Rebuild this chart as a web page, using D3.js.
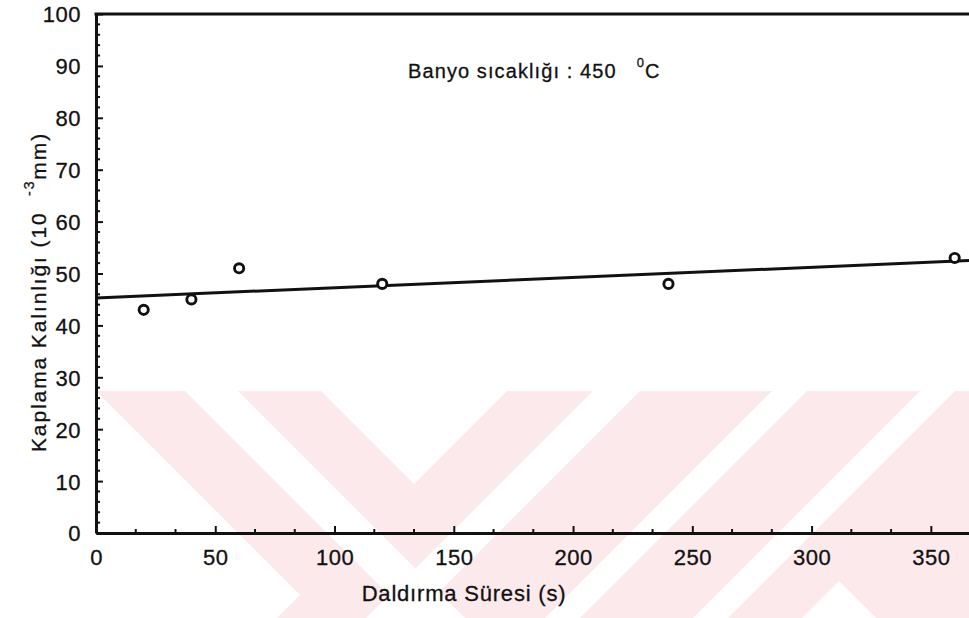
<!DOCTYPE html>
<html>
  <head>
    <meta charset="utf-8">
    <script src="https://cdn.jsdelivr.net/npm/d3@7"></script>
    <style>
      body { margin: 0; background: #fff; }
      svg text { font-family: "Liberation Sans", Arial, sans-serif; fill: #111; stroke: #111; stroke-width: 0.3px; white-space: pre; }
    </style>
  </head>
  <body>
    <svg id="chart"></svg>
    <script>

    // measured points (Daldırma süresi, s / kaplama kalınlığı, 10^-3 mm)
    var timeS = [20, 40, 60, 120, 240, 360]
    var thickness = [43, 45, 51, 48, 48, 53]

    // fitted line at its two ends
    var fitX = [0, 366]
    var fitY = [45.3, 52.5]

    var xTicks = [0, 50, 100, 150, 200, 250, 300, 350]
    var yTicks = [0, 10, 20, 30, 40, 50, 60, 70, 80, 90, 100]

    var width = 969
    var height = 618

    var svg = d3.select("#chart")
      .attr("width", width)
      .attr("height", height)

    var x = d3.scaleLinear().domain([0, 366]).range([96, 969])
    var y = d3.scaleLinear().domain([0, 100]).range([533, 14])

    // pale watermark from the scanned page
    var wm = svg.append("g").attr("class", "watermark")
    wm.append("rect")
      .attr("x", 96).attr("y", 391)
      .attr("width", width - 96).attr("height", height - 391)
      .attr("fill", "#fce9ec")
    var cuts = [
      [[96,391],[300,595],[277,618],[96,618]],
      [[185,391],[238,391],[465,618],[412,618]],
      [[321,391],[507,391],[414,484]],
      [[593,391],[640,391],[413,618],[366,618]],
      [[772,391],[807,391],[580,618],[545,618]],
      [[920,391],[955,391],[728,618],[693,618]],
      [[839,581],[876,618],[802,618]]
    ]
    wm.selectAll("polygon")
      .data(cuts)
      .enter().append("polygon")
      .attr("points", function(d) { return d.join(" ") })
      .attr("fill", "#fff")

    // minor ticks
    var xMinor = d3.range(50 / 3, 366, 50 / 3).filter(function(v) { return Math.abs(v % 50) > 1 && Math.abs(v % 50 - 50) > 1 })
    var yMinor = d3.range(2, 100, 2).filter(function(v) { return v % 10 != 0 })

    svg.append("g")
      .selectAll("line")
      .data(xMinor)
      .enter().append("line")
      .attr("x1", function(d) { return x(d) }).attr("x2", function(d) { return x(d) })
      .attr("y1", y(0)).attr("y2", y(0) - 4)
      .attr("stroke", "#111").attr("stroke-width", 2)

    svg.append("g")
      .selectAll("line")
      .data(yMinor)
      .enter().append("line")
      .attr("x1", x(0)).attr("x2", x(0) + 4)
      .attr("y1", function(d) { return y(d) }).attr("y2", function(d) { return y(d) })
      .attr("stroke", "#111").attr("stroke-width", 2)

    // axes, ticks point inwards
    var xAxis = svg.append("g")
      .attr("transform", "translate(0," + y(0) + ")")
      .call(d3.axisBottom(x).tickValues(xTicks).tickSize(-7).tickSizeOuter(0))
    xAxis.select(".domain").attr("stroke", "#111").attr("stroke-width", 3)
    xAxis.selectAll(".tick line").attr("stroke", "#111").attr("stroke-width", 2)
    xAxis.selectAll(".tick text")
      .attr("y", 32).attr("dy", null)
      .style("font-size", "22px")
      .style("letter-spacing", "0.5px")

    var yAxis = svg.append("g")
      .attr("transform", "translate(" + x(0) + ",0)")
      .call(d3.axisLeft(y).tickValues(yTicks).tickSize(-7).tickSizeOuter(0))
    yAxis.select(".domain").attr("stroke", "#111").attr("stroke-width", 3)
    yAxis.selectAll(".tick line").attr("stroke", "#111").attr("stroke-width", 2)
    yAxis.selectAll(".tick text")
      .attr("x", -15).attr("dy", "0.36em")
      .style("font-size", "22px")
      .style("letter-spacing", "0.5px")

    // top frame line
    svg.append("line")
      .attr("x1", x(0) - 1.5).attr("x2", width)
      .attr("y1", y(100)).attr("y2", y(100))
      .attr("stroke", "#111").attr("stroke-width", 3)

    // fit line
    var line = d3.line()
      .x(function(d) { return x(d[0]) })
      .y(function(d) { return y(d[1]) })
    svg.append("path")
      .datum(d3.zip(fitX, fitY))
      .attr("d", line)
      .attr("fill", "none")
      .attr("stroke", "#111")
      .attr("stroke-width", 3)

    // data points
    svg.append("g")
      .selectAll("circle")
      .data(d3.zip(timeS, thickness))
      .enter().append("circle")
      .attr("cx", function(d) { return x(d[0]) })
      .attr("cy", function(d) { return y(d[1]) })
      .attr("r", 4.6)
      .attr("fill", "#fff")
      .attr("stroke", "#111")
      .attr("stroke-width", 2.9)

    // annotation
    var note = svg.append("text")
      .attr("x", 408).attr("y", 78)
      .style("font-size", "20px")
      .style("letter-spacing", "1.1px")
    note.append("tspan").text("Banyo sıcaklığı : 450\u00a0\u00a0\u00a0")
    note.append("tspan").attr("dy", -11).style("font-size", "13px").text("0")
    note.append("tspan").attr("dy", 11).text("C")

    // axis titles
    svg.append("text")
      .attr("x", 464).attr("y", 601)
      .attr("text-anchor", "middle")
      .style("font-size", "22px")
      .style("letter-spacing", "0.8px")
      .text("Daldırma Süresi (s)")

    var yTitle = svg.append("text")
      .attr("transform", "translate(46,292) rotate(-90)")
      .attr("text-anchor", "middle")
      .style("font-size", "21px")
      .style("letter-spacing", "1.9px")
    yTitle.append("tspan").text("Kaplama Kalınlığı (10\u00a0\u00a0")
    yTitle.append("tspan").attr("dy", -12).style("font-size", "14px").text("-3")
    yTitle.append("tspan").attr("dy", 12).text("mm)")

    </script>
  </body>
</html>
